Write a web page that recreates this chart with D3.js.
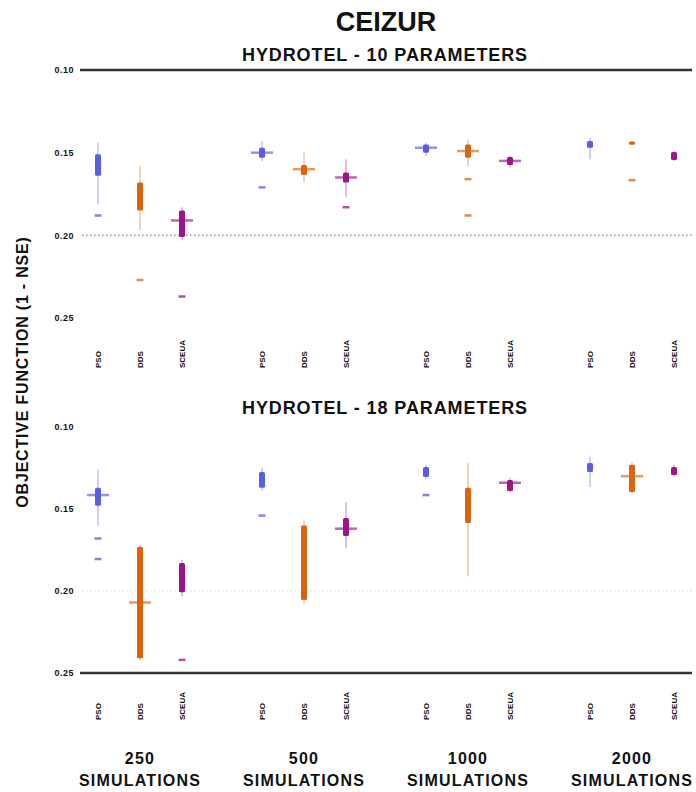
<!DOCTYPE html>
<html>
<head>
<meta charset="utf-8">
<script src="https://cdn.jsdelivr.net/npm/d3@7"></script>
<style>
  body { margin: 0; background: #fff; }
  text { font-family: "Liberation Sans", Arial, sans-serif; font-weight: bold; fill: #111; }
</style>
</head>
<body>
<div id="main"></div>
<script>
const ctx = {
    w: 696,
    h: 792
};

// groups = number of simulations, one box per algorithm in each group
const GROUPS = ["250", "500", "1000", "2000"];
const ALGOS = ["PSO", "DDS", "SCEUA"];
const ALGO_COLORS = ["#5c5ce4", "#db650e", "#9c1689"];
const Y_TICKS = [0.10, 0.15, 0.20, 0.25];
const REF_LINE = 0.20;

// [low whisker, q1, median, q3, high whisker] per group (1 - NSE)
// HYDROTEL - 10 parameters
const P10_PSO   = [[0.144, 0.151, null, 0.164, 0.181], [0.143, 0.147, 0.150, 0.153, 0.155], [0.144, 0.145, 0.147, 0.150, 0.152], [0.141, 0.143, null, 0.147, 0.154]];
const P10_DDS   = [[0.158, 0.168, null, 0.185, 0.197], [0.150, 0.1575, 0.160, 0.1635, 0.168], [0.142, 0.145, 0.149, 0.153, 0.158], [0.1432, 0.1432, null, 0.1452, 0.1452]];
const P10_SCEUA = [[0.183, 0.185, 0.191, 0.201, 0.203], [0.154, 0.162, 0.165, 0.168, 0.177], [0.152, 0.1526, 0.155, 0.1575, 0.159], [0.149, 0.1496, null, 0.1544, 0.155]];
const P10_PSO_OUT   = [[0.188], [0.171], [], []];
const P10_DDS_OUT   = [[0.227], [], [0.166, 0.188], [0.1666]];
const P10_SCEUA_OUT = [[0.237], [0.183], [], []];

// HYDROTEL - 18 parameters
const P18_PSO   = [[0.126, 0.137, 0.1415, 0.148, 0.160], [0.125, 0.1275, null, 0.137, 0.139], [0.123, 0.1244, null, 0.1305, 0.132], [0.118, 0.122, null, 0.1275, 0.1366]];
const P18_DDS   = [[0.172, 0.173, 0.207, 0.241, 0.242], [0.157, 0.160, null, 0.2055, 0.208], [0.122, 0.137, null, 0.1586, 0.191], [0.121, 0.123, 0.130, 0.1397, 0.141]];
const P18_SCEUA = [[0.181, 0.183, null, 0.2007, 0.203], [0.146, 0.1555, 0.162, 0.1665, 0.174], [0.131, 0.1323, 0.134, 0.139, 0.140], [0.123, 0.1244, null, 0.1293, 0.130]];
const P18_PSO_OUT   = [[0.168, 0.1805], [0.154], [0.1415], []];
const P18_DDS_OUT   = [[], [], [], []];
const P18_SCEUA_OUT = [[0.242], [], [], []];

const xGroup = d3.scalePoint().domain(GROUPS).range([140, 632]);
const xAlgo = d3.scalePoint().domain(ALGOS).range([-42, 42]);
const boxX = (g, a) => xGroup(g) + xAlgo(a);

function buildRows(boxes, outliers) {
    let rows = [];
    boxes.forEach(function (series, ai) {
        series.forEach(function (b, gi) {
            rows.push({
                group: GROUPS[gi], algo: ALGOS[ai], color: ALGO_COLORS[ai],
                lo: b[0], q1: b[1], med: b[2], q3: b[3], hi: b[4],
                out: outliers[ai][gi]
            });
        });
    });
    return rows;
}

function drawPanel(svgEl, opts) {
    let y = d3.scaleLinear().domain([0.10, 0.25]).range(opts.range);
    let g = svgEl.append("g");

    // y axis: labels only, with a heavy line on one end
    let axis = d3.axisLeft(y).tickValues(Y_TICKS).tickFormat(d3.format(".2f")).tickSize(0).tickPadding(6);
    let axG = g.append("g").attr("transform", "translate(80,0)").call(axis);
    axG.select(".domain").remove();
    axG.selectAll("text").style("font-size", "9px").style("letter-spacing", "0.5px");

    g.append("line")
        .attr("x1", 80).attr("x2", 692)
        .attr("y1", y(opts.edge)).attr("y2", y(opts.edge))
        .attr("stroke", "#333").attr("stroke-width", 2.5);

    g.append("line")
        .attr("x1", 82).attr("x2", 692)
        .attr("y1", y(REF_LINE)).attr("y2", y(REF_LINE))
        .attr("stroke", "#222").attr("stroke-width", 1.5)
        .attr("stroke-dasharray", "1.5,2.5")
        .attr("opacity", opts.refOpacity);

    let rows = buildRows(opts.boxes, opts.outliers);
    let bx = g.selectAll("g.box").data(rows).enter().append("g").attr("class", "box");

    bx.append("line")
        .attr("x1", d => boxX(d.group, d.algo)).attr("x2", d => boxX(d.group, d.algo))
        .attr("y1", d => y(d.lo)).attr("y2", d => y(d.hi))
        .attr("stroke", d => d.color).attr("stroke-width", 1.6).attr("opacity", 0.35);

    bx.append("rect")
        .attr("x", d => boxX(d.group, d.algo) - 3)
        .attr("width", 6)
        .attr("y", d => y(d.q1))
        .attr("height", d => Math.max(3, y(d.q3) - y(d.q1)))
        .attr("rx", 1.5)
        .attr("fill", d => d.color);

    bx.filter(d => d.med != null).append("line")
        .attr("x1", d => boxX(d.group, d.algo) - 11).attr("x2", d => boxX(d.group, d.algo) + 11)
        .attr("y1", d => y(d.med)).attr("y2", d => y(d.med))
        .attr("stroke", d => d.color).attr("stroke-width", 2.5).attr("opacity", 0.65);

    bx.selectAll("line.out").data(d => d.out.map(v => ({ v: v, d: d }))).enter()
        .append("line").attr("class", "out")
        .attr("x1", o => boxX(o.d.group, o.d.algo) - 3.5).attr("x2", o => boxX(o.d.group, o.d.algo) + 3.5)
        .attr("y1", o => y(o.v)).attr("y2", o => y(o.v))
        .attr("stroke", o => o.d.color).attr("stroke-width", 2.5).attr("opacity", 0.75);

    // rotated algorithm names below each box
    g.selectAll("text.algo").data(rows).enter().append("text")
        .attr("class", "algo")
        .attr("transform", d => `translate(${boxX(d.group, d.algo) + 3},${opts.labelY}) rotate(-90)`)
        .style("font-size", "8px")
        .text(d => d.algo);

    g.append("text")
        .attr("x", 385).attr("y", opts.titleY)
        .attr("text-anchor", "middle")
        .style("font-size", "18px").style("letter-spacing", "0.9px")
        .text(opts.title);
}

function createViz() {
    let svgEl = d3.select("#main").append("svg")
        .attr("width", ctx.w).attr("height", ctx.h);

    svgEl.append("text")
        .attr("x", 386).attr("y", 31)
        .attr("text-anchor", "middle")
        .style("font-size", "27px")
        .text("CEIZUR");

    drawPanel(svgEl, {
        title: "HYDROTEL - 10 PARAMETERS", titleY: 61,
        range: [70, 318], edge: 0.10, refOpacity: 0.45, labelY: 368,
        boxes: [P10_PSO, P10_DDS, P10_SCEUA],
        outliers: [P10_PSO_OUT, P10_DDS_OUT, P10_SCEUA_OUT]
    });
    drawPanel(svgEl, {
        title: "HYDROTEL - 18 PARAMETERS", titleY: 414,
        range: [427, 673], edge: 0.25, refOpacity: 0.12, labelY: 720,
        boxes: [P18_PSO, P18_DDS, P18_SCEUA],
        outliers: [P18_PSO_OUT, P18_DDS_OUT, P18_SCEUA_OUT]
    });

    svgEl.append("text")
        .attr("transform", "translate(28,372) rotate(-90)")
        .attr("text-anchor", "middle")
        .style("font-size", "16px").style("letter-spacing", "0.8px")
        .text("OBJECTIVE FUNCTION (1 - NSE)");

    let gl = svgEl.selectAll("text.group").data(GROUPS).enter().append("text")
        .attr("class", "group")
        .attr("text-anchor", "middle")
        .style("font-size", "16px").style("letter-spacing", "1.2px");
    gl.append("tspan").attr("x", d => xGroup(d)).attr("y", 764).text(d => d);
    gl.append("tspan").attr("x", d => xGroup(d)).attr("y", 786).text("SIMULATIONS");
}

createViz();
</script>
</body>
</html>
